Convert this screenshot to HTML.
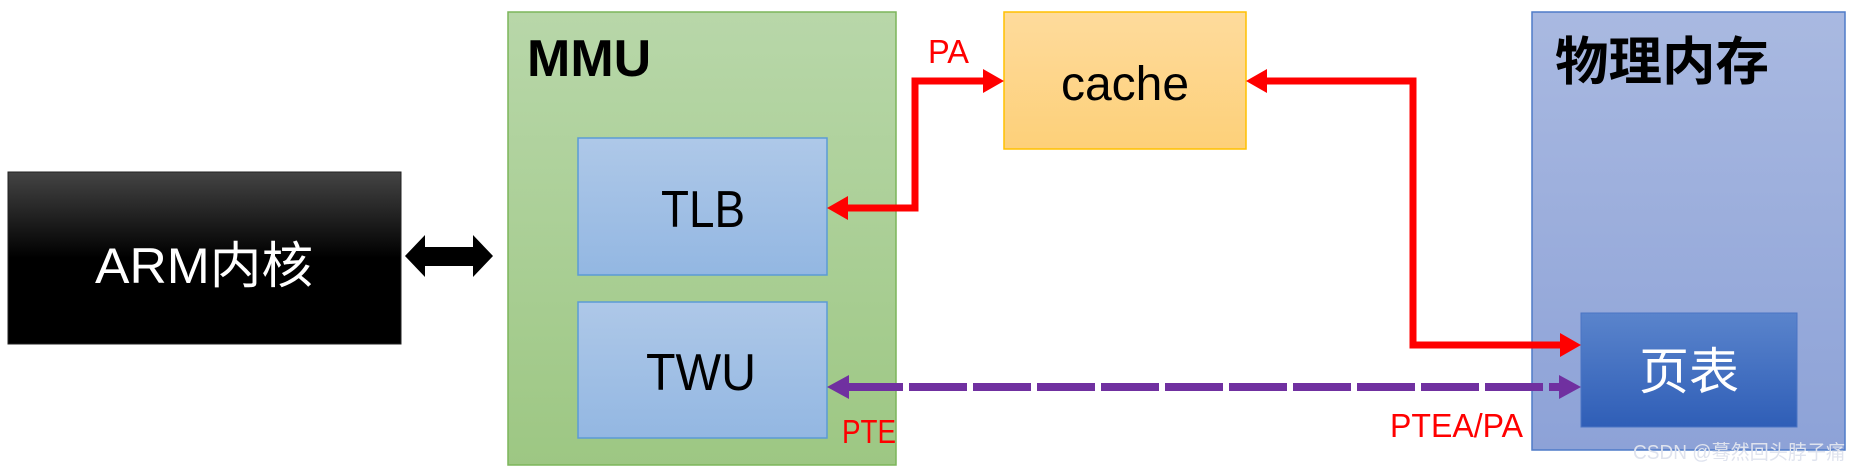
<!DOCTYPE html>
<html><head><meta charset="utf-8"><style>
html,body{margin:0;padding:0;background:#fff;}
svg{display:block}
text{font-family:"Liberation Sans","Noto Sans CJK SC",sans-serif;}
</style></head><body>
<svg width="1859" height="469" viewBox="0 0 1859 469" xmlns="http://www.w3.org/2000/svg">
<defs>
<linearGradient id="g1" x1="0" y1="0" x2="0" y2="1"><stop offset="0" stop-color="#b8d7a9"/><stop offset="1" stop-color="#9dc783"/></linearGradient>
<linearGradient id="g2" x1="0" y1="0" x2="0" y2="1"><stop offset="0" stop-color="#aec8e8"/><stop offset="1" stop-color="#93b7e2"/></linearGradient>
<linearGradient id="g3" x1="0" y1="0" x2="0" y2="1"><stop offset="0" stop-color="#fedb9c"/><stop offset="1" stop-color="#fdd079"/></linearGradient>
<linearGradient id="g4" x1="0" y1="0" x2="0" y2="1"><stop offset="0" stop-color="#a9b9e1"/><stop offset="1" stop-color="#8da2d7"/></linearGradient>
<linearGradient id="g5" x1="0" y1="0" x2="0" y2="1"><stop offset="0" stop-color="#5a84cc"/><stop offset="1" stop-color="#2f5eb7"/></linearGradient>
<linearGradient id="g6" x1="0" y1="0" x2="0" y2="1"><stop offset="0" stop-color="#444"/><stop offset="0.5" stop-color="#000"/><stop offset="1" stop-color="#000"/></linearGradient>
</defs>
<rect x="508" y="12" width="388" height="453" fill="url(#g1)" stroke="#7cb55a" stroke-width="1.5"/>
<rect x="1532" y="12" width="313" height="438" fill="url(#g4)" stroke="#4f7bc8" stroke-width="1.5"/>
<rect x="1004" y="12" width="242" height="137" fill="url(#g3)" stroke="#ffc000" stroke-width="1.5"/>
<rect x="578" y="138" width="249" height="137" fill="url(#g2)" stroke="#5b9bd5" stroke-width="1.5"/>
<rect x="578" y="302" width="249" height="136" fill="url(#g2)" stroke="#5b9bd5" stroke-width="1.5"/>
<rect x="1581" y="313" width="216" height="114" fill="url(#g5)" stroke="#4a74c4" stroke-width="1"/>
<rect x="8" y="172" width="393" height="172" fill="url(#g6)" stroke="#222" stroke-width="1"/>
<polygon points="405,256 425,235 425,247 473,247 473,235 493,256 473,277 473,266 425,266 425,277" fill="#000"/>
<polyline points="846,208 915,208 915,81 985,81" fill="none" stroke="#ff0000" stroke-width="7"/>
<polygon points="827,208 848,196 848,220" fill="#ff0000"/>
<polygon points="1004,81 983,69 983,93" fill="#ff0000"/>
<polyline points="1265,81 1413,81 1413,345 1562,345" fill="none" stroke="#ff0000" stroke-width="7"/>
<polygon points="1246,81 1267,69 1267,93" fill="#ff0000"/>
<polygon points="1581,345 1560,333 1560,357" fill="#ff0000"/>
<line x1="845" y1="387" x2="1562" y2="387" stroke="#7030a0" stroke-width="8" stroke-dasharray="58,6"/>
<polygon points="827,387 849,375 849,399" fill="#7030a0"/>
<polygon points="1581,387 1559,375 1559,399" fill="#7030a0"/>
<text x="527" y="76" font-size="52" font-weight="bold" fill="#000">MMU</text>
<text x="1555" y="80" font-size="52" font-weight="bold" fill="#000" textLength="214" lengthAdjust="spacingAndGlyphs">物理内存</text>
<text x="1125" y="100" font-size="48" fill="#000" text-anchor="middle">cache</text>
<text x="661" y="227" font-size="52" fill="#000" textLength="84" lengthAdjust="spacingAndGlyphs">TLB</text>
<text x="646" y="390" font-size="52" fill="#000" textLength="110" lengthAdjust="spacingAndGlyphs">TWU</text>
<text x="95" y="283" font-size="50" fill="#fff" textLength="218" lengthAdjust="spacingAndGlyphs">ARM内核</text>
<text x="1689" y="389" font-size="50" fill="#fff" text-anchor="middle">页表</text>
<text x="928" y="63" font-size="33" fill="#ff0000" textLength="41" lengthAdjust="spacingAndGlyphs">PA</text>
<text x="842" y="443" font-size="33" fill="#ff0000" textLength="54" lengthAdjust="spacingAndGlyphs">PTE</text>
<text x="1390" y="437" font-size="33" fill="#ff0000" textLength="133" lengthAdjust="spacingAndGlyphs">PTEA/PA</text>
<text x="1633" y="459" font-size="20" fill="#dfe3ee" textLength="212" lengthAdjust="spacingAndGlyphs">CSDN @蓦然回头脖子痛</text>
</svg>
</body></html>
